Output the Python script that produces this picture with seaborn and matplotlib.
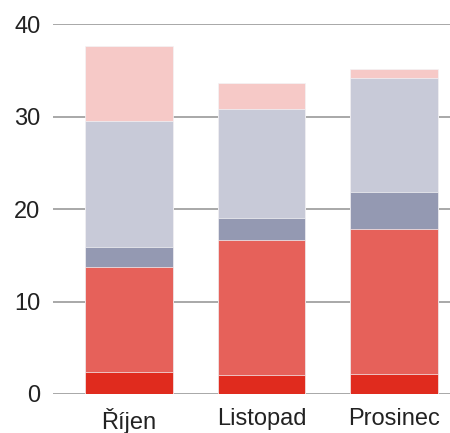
import matplotlib
matplotlib.use("Agg")
import matplotlib.pyplot as plt
import seaborn as sns
import numpy as np
import pandas as pd

months = ["Říjen", "Listopad", "Prosinec"]
s1 = [2.4, 2.1, 2.2]      # dark red (bottom)
s2 = [11.3, 14.6, 15.6]   # red
s3 = [2.2, 2.3, 4.1]      # grey-blue
s4 = [13.6, 11.8, 12.3]   # light grey
s5 = [8.1, 2.8, 1.0]      # pink (top)
series = [s1, s2, s3, s4, s5]
colors = ["#E02B1E", "#E6615A", "#9499B2", "#C8CAD8", "#F6C9C7"]
yticks = [0, 10, 20, 30, 40]

sns.set_theme(style="white")
plt.rcParams["font.family"] = ["Liberation Sans", "DejaVu Sans"]

fig = plt.figure(figsize=(4.5, 4.33), dpi=100)
ax = fig.add_axes([0.1178, 0.0901, 0.8822, 0.8538])

cum = np.cumsum(np.array(series), axis=0)
for i in range(len(series) - 1, -1, -1):
    df = pd.DataFrame({"month": months, "value": cum[i]})
    sns.barplot(data=df, x="month", y="value", color=colors[i], width=0.66,
                edgecolor="#f4f4f6", linewidth=0.5, saturation=1, ax=ax, zorder=3)
    for p in ax.patches[-3:]:
        p.set_facecolor(colors[i])

ax.set_ylim(0, 40)
ax.set_xlim(-0.57, 2.42)
ax.set_yticks(yticks)
ax.yaxis.grid(True, color="#9a9a9a", linewidth=1.2, zorder=0)
ax.set_axisbelow(True)
for s in ax.spines.values():
    s.set_visible(False)
ax.set_xlabel("")
ax.set_ylabel("")
ax.tick_params(axis="y", length=0, pad=9, labelsize=17, labelcolor="#222222")
ax.tick_params(axis="x", length=0, pad=10, labelsize=17, labelcolor="#222222")
for p in ax.patches:
    p.set_zorder(3)

fig.savefig("out.png", dpi=100)
